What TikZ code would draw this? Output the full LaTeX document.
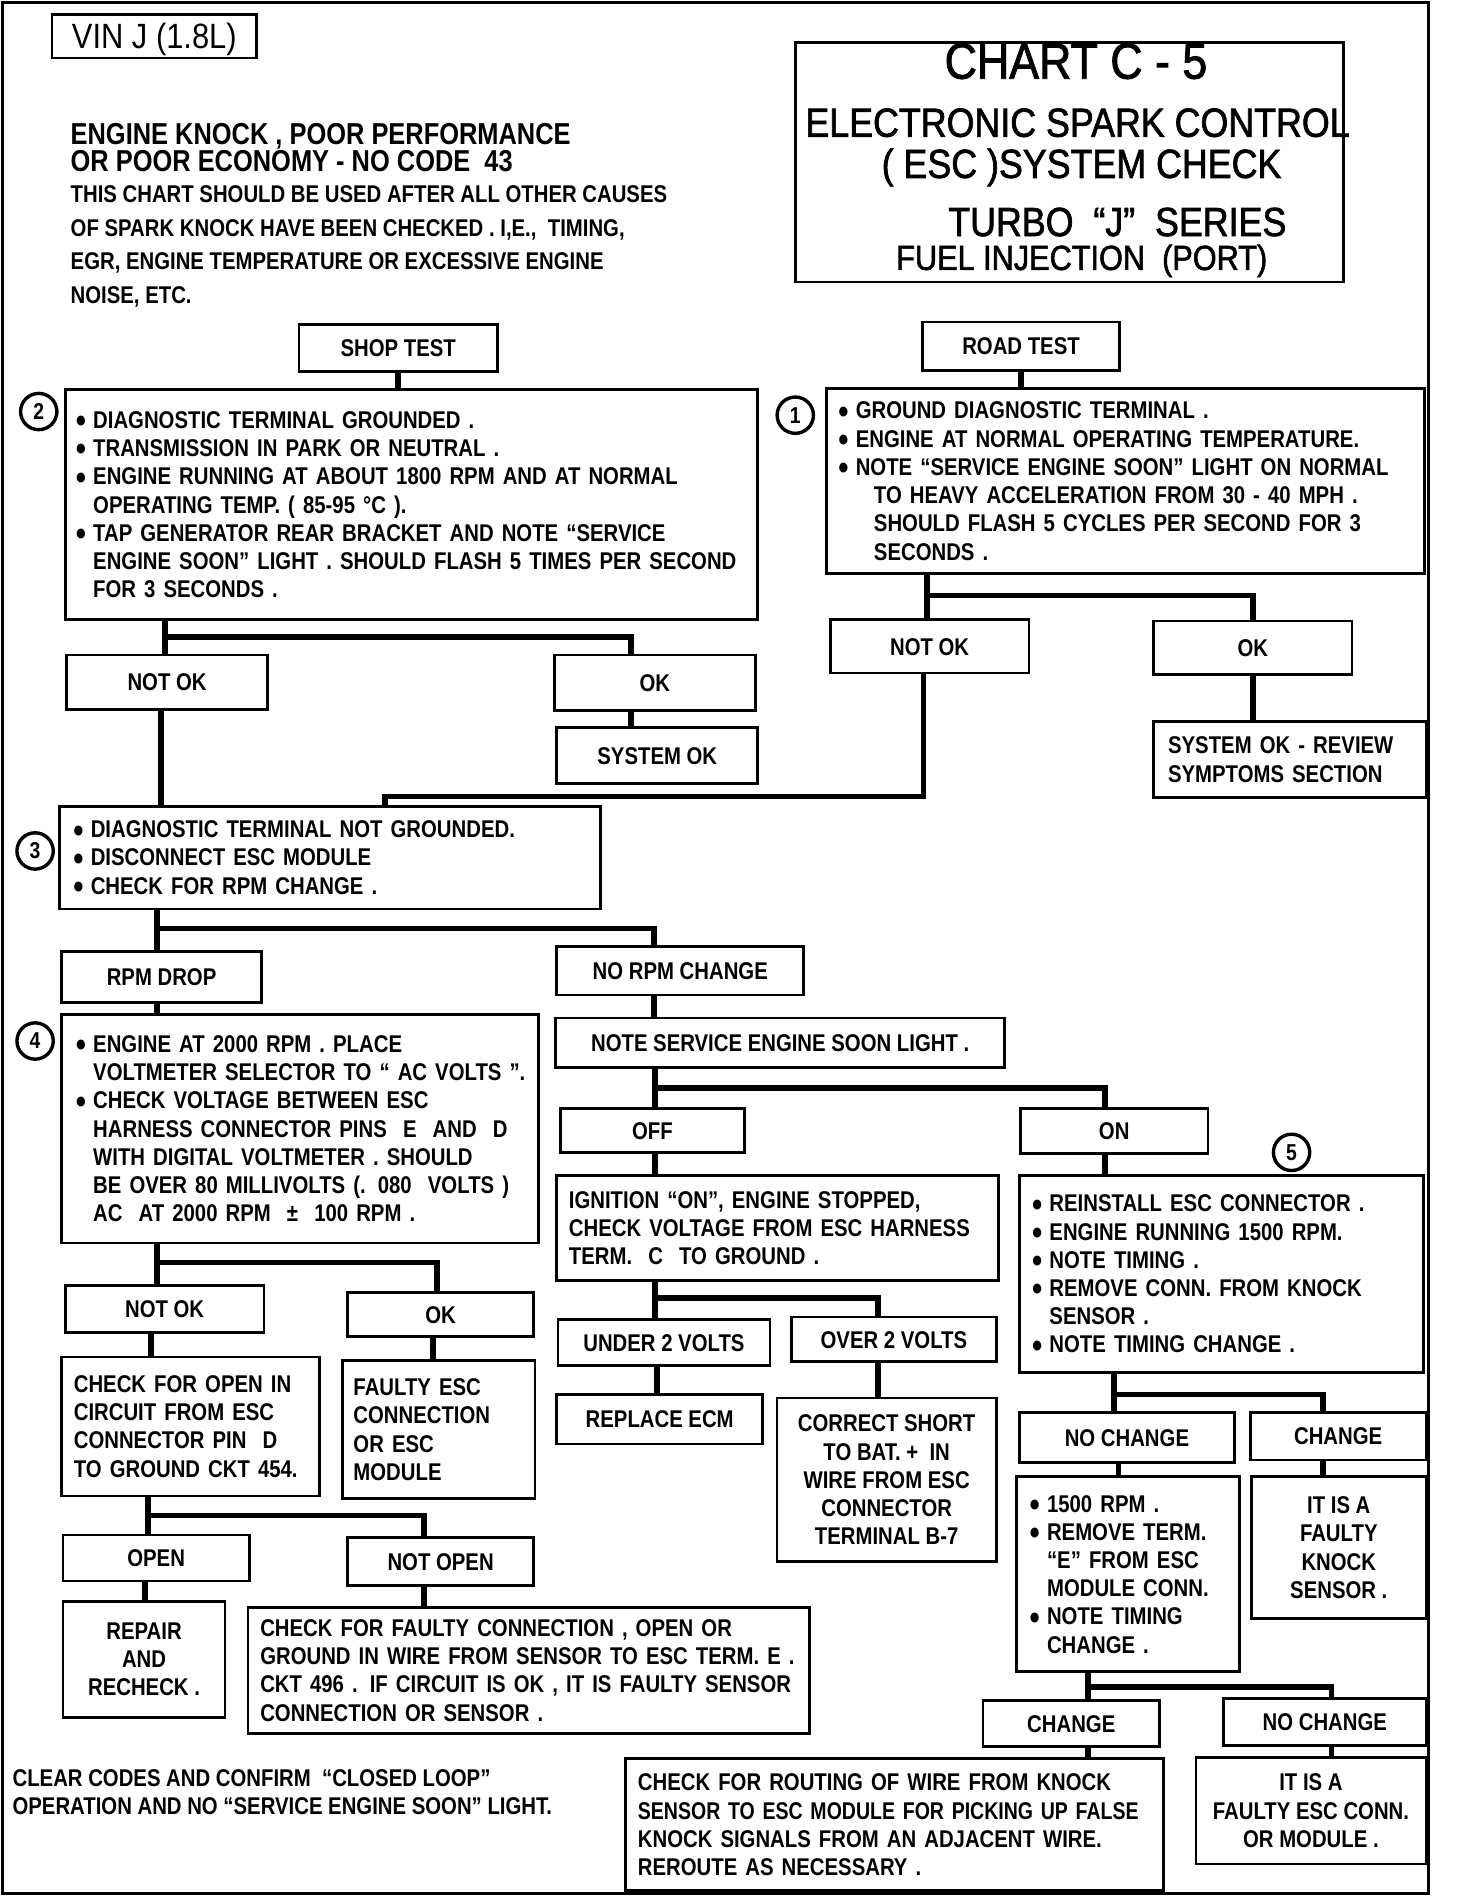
\documentclass[tikz,border=0pt]{standalone}
\usepackage{fontspec}
\setmainfont{Liberation Sans}
\newfontfamily\cf{Liberation Sans}[FakeStretch=0.84]
\newfontfamily\tf{Liberation Sans}[FakeStretch=0.88,FakeBold=1.6]
\newfontfamily\vf{Liberation Sans}[FakeStretch=0.88]
\newcommand\bodyf{\cf\bfseries\fontsize{10}{11.65}\selectfont}
\newcommand\hdrf{\cf\bfseries\fontsize{12.5}{11.65}\selectfont}
\newcommand\titf{\tf\fontsize{16.8}{20}\selectfont}
\newcommand\bul{\makebox[7.5pt][l]{\raisebox{0.3pt}{\fontsize{9.5}{9.5}\selectfont ●}}}
\newcommand\hin{\hspace*{7.5pt}}
\newcommand\bx[7][]{%
  \pgfmathsetmacro\bxcx{(#3+#5)/2}%
  \pgfmathsetmacro\bxcy{(#4+#6)/2}%
  \pgfmathsetmacro\bxw{(#5-#3)*0.5}%
  \pgfmathsetmacro\bxh{(#6-#4)*0.5}%
  \node[boxst,minimum width=\bxw pt,minimum height=\bxh pt,#1] (#2) at (\bxcx,\bxcy) {#7};}
\begin{document}
\begin{tikzpicture}[x=0.5pt,y=-0.5pt,
  boxst/.style={draw,line width=1.1pt,inner sep=0pt,font=\bodyf},
  lbl/.style={text height=7.2pt,text depth=0pt},
  lft/.code={\pgfmathsetmacro\bxtw{\bxw-2*#1}\pgfkeysalso{align=left,inner xsep=#1pt,text width=\bxtw pt}},
  lft/.default=5,
  ctr/.style={align=center},
  conn/.style={line width=2.4pt,line join=miter},
  circ/.style={circle,draw,line width=1.4pt,inner sep=0pt,minimum size=15pt,font=\cf\bfseries\fontsize{9.5}{10}\selectfont},
  txt/.style={inner sep=0pt,anchor=base west}]
\fill[white] (0,0) rectangle (1203,1568);
\useasboundingbox (0,0) rectangle (1203,1568);
\draw[line width=1.2pt] (2,2) rectangle (1180,1564);

% ---- header
\bx[font=\vf\fontsize{14.5}{16}\selectfont,text height=10.4pt,text depth=0pt]{vin}{43}{12}{212}{48}{VIN J (1.8L)}
\bx{title}{657}{35}{1110}{233}{}
\node[txt,font=\tf\fontsize{21}{24}\selectfont] (t1) at (780,65) {CHART C - 5};
\node[txt,font=\titf] (t2) at (665,113) {ELECTRONIC SPARK CONTROL};
\node[txt,font=\titf] (t3) at (728,147) {( ESC )SYSTEM CHECK};
\node[txt,font=\titf] (t4) at (783,195) {TURBO~ “J”~ SERIES};
\node[txt,font=\tf\fontsize{14.4}{18}\selectfont] (t5) at (740,223) {FUEL INJECTION~ (PORT)};

\node[txt,font=\hdrf] (hd1) at (58,119) {ENGINE KNOCK , POOR PERFORMANCE};
\node[txt,font=\hdrf] (hd2) at (58,142) {OR POOR ECONOMY - NO CODE~ 43};
\node[txt,font=\bodyf] (hd3) at (58,167) {THIS CHART SHOULD BE USED AFTER ALL OTHER CAUSES};
\node[txt,font=\bodyf] (hd4) at (58,195) {OF SPARK KNOCK HAVE BEEN CHECKED . I,E.,~ TIMING,};
\node[txt,font=\bodyf] (hd5) at (58,223) {EGR, ENGINE TEMPERATURE OR EXCESSIVE ENGINE};
\node[txt,font=\bodyf] (hd6) at (58,251) {NOISE, ETC.};

% ---- boxes
\bx[lbl]{shop}{247}{268}{411}{307}{SHOP TEST}
\bx[lbl]{road}{762}{266}{925}{306}{ROAD TEST}
\bx[lft=4]{box2}{54}{322}{626}{512}{%
\bul DIAGNOSTIC TERMINAL GROUNDED .\\
\bul TRANSMISSION IN PARK OR NEUTRAL .\\
\bul ENGINE RUNNING AT ABOUT 1800 RPM AND AT NORMAL\\
\hin OPERATING TEMP. ( 85-95 °C ).\\
\bul TAP GENERATOR REAR BRACKET AND NOTE “SERVICE\\
\hin\mbox{ENGINE SOON” LIGHT . SHOULD FLASH 5 TIMES PER SECOND}\\
\hin FOR 3 SECONDS .}
\bx[lft=4.5]{box1}{683}{321}{1177}{474}{%
\bul GROUND DIAGNOSTIC TERMINAL .\\
\bul ENGINE AT NORMAL OPERATING TEMPERATURE.\\
\bul \mbox{NOTE “SERVICE ENGINE SOON” LIGHT ON NORMAL}\\
\hin\hin TO HEAVY ACCELERATION FROM 30 - 40 MPH .\\
\hin\hin SHOULD FLASH 5 CYCLES PER SECOND FOR 3\\
\hin\hin SECONDS .}
\node[circ] (n2) at (32,340) {2};
\node[circ] (n1) at (657,343) {1};

\bx[lbl]{notok1}{55}{541}{221}{586}{NOT OK}
\bx[lbl]{ok1}{458}{541}{624}{587}{OK}
\bx[lbl]{sysok1}{460}{601}{626}{647}{SYSTEM OK}
\bx[lbl]{notok2}{686}{512}{850}{556}{NOT OK}
\bx[lbl]{ok2}{953}{513}{1117}{557}{OK}
\bx[lft=6]{sysok2}{953}{596}{1178}{659}{SYSTEM OK - REVIEW\\SYMPTOMS SECTION}

\bx[lft=5.5]{box3}{49}{666}{496}{751}{%
\bul DIAGNOSTIC TERMINAL NOT GROUNDED.\\
\bul DISCONNECT ESC MODULE\\
\bul CHECK FOR RPM CHANGE .}
\node[circ] (n3) at (29,703) {3};

\bx[lbl]{rpmdrop}{51}{786}{216}{828}{RPM DROP}
\bx[lbl]{norpm}{460}{782}{664}{822}{NO RPM CHANGE}
\bx[lft=5.5]{box4}{51}{838}{445}{1027}{%
\bul ENGINE AT 2000 RPM . PLACE\\
\hin\mbox{VOLTMETER SELECTOR TO “ AC VOLTS ”.}\\
\bul CHECK VOLTAGE BETWEEN ESC\\
\hin\mbox{HARNESS CONNECTOR PINS~ E~ AND~ D}\\
\hin\mbox{WITH DIGITAL VOLTMETER . SHOULD}\\
\hin\mbox{BE OVER 80 MILLIVOLTS (. 080~ VOLTS )}\\
\hin AC~ AT 2000 RPM~ ±~ 100 RPM .}
\node[circ] (n4) at (29,860) {4};

\bx[lbl]{note}{459}{841}{830}{882}{NOTE SERVICE ENGINE SOON LIGHT .}
\bx[lbl]{off}{463}{916}{615}{952}{OFF}
\bx[lbl]{on}{843}{916}{998}{953}{ON}
\node[circ] (n5) at (1067,952) {5};
\bx[lft=5]{ign}{460}{971}{825}{1058}{%
IGNITION “ON”, ENGINE STOPPED,\\
CHECK VOLTAGE FROM ESC HARNESS\\
TERM.~ C~ TO GROUND .}
\bx[lft=5]{box5}{842}{971}{1176}{1134}{%
\bul REINSTALL ESC CONNECTOR .\\
\bul ENGINE RUNNING 1500 RPM.\\
\bul NOTE TIMING .\\
\bul REMOVE CONN. FROM KNOCK\\
\hin SENSOR .\\
\bul NOTE TIMING CHANGE .}

\bx[lbl]{notok3}{54}{1062}{218}{1101}{NOT OK}
\bx[lbl]{ok3}{287}{1068}{441}{1104}{OK}
\bx[lft=5]{chkopen}{51}{1121}{264}{1236}{%
CHECK FOR OPEN IN\\
CIRCUIT FROM ESC\\
CONNECTOR PIN~ D\\
\mbox{TO GROUND CKT 454.}}
\bx[lft=4.5]{faulty}{283}{1124}{442}{1238}{%
FAULTY ESC\\CONNECTION\\OR ESC\\MODULE}
\bx[lbl]{open}{52}{1268}{206}{1306}{OPEN}
\bx[lbl]{notopen}{287}{1270}{441}{1310}{NOT OPEN}
\bx[ctr]{repair}{52}{1323}{186}{1419}{REPAIR\\AND\\RECHECK .}
\bx[lft=5]{chkfaulty}{205}{1328}{669}{1432}{%
CHECK FOR FAULTY CONNECTION , OPEN OR\\
\mbox{GROUND IN WIRE FROM SENSOR TO ESC TERM. E .}\\
\mbox{CKT 496 . IF CIRCUIT IS OK , IT IS FAULTY SENSOR}\\
CONNECTION OR SENSOR .}

\bx[lbl]{under}{461}{1090}{636}{1128}{UNDER 2 VOLTS}
\bx[lbl]{over}{654}{1088}{823}{1125}{OVER 2 VOLTS}
\bx[lbl]{replace}{460}{1152}{630}{1193}{REPLACE ECM}
\bx[ctr]{correct}{642}{1155}{823}{1290}{%
CORRECT SHORT\\TO BAT. +~ IN\\WIRE FROM ESC\\CONNECTOR\\TERMINAL B-7}

\bx[lbl]{nochg1}{842}{1167}{1020}{1208}{NO CHANGE}
\bx[lbl]{chg1}{1033}{1167}{1178}{1206}{CHANGE}
\bx[lft=5]{rpm1500}{840}{1220}{1024}{1381}{%
\bul 1500 RPM .\\
\bul REMOVE TERM.\\
\hin “E” FROM ESC\\
\hin MODULE CONN.\\
\bul NOTE TIMING\\
\hin CHANGE .}
\bx[ctr]{knock}{1034}{1220}{1178}{1337}{IT IS A\\FAULTY\\KNOCK\\SENSOR .}
\bx[lbl]{chg2}{812}{1405}{958}{1443}{CHANGE}
\bx[lbl]{nochg2}{1011}{1403}{1178}{1442}{NO CHANGE}
\bx[lft=5]{routing}{517}{1453}{961}{1562}{%
\mbox{CHECK FOR ROUTING OF WIRE FROM KNOCK}\\
\scalebox{0.96}[1]{SENSOR TO ESC MODULE FOR PICKING UP FALSE}\\
\mbox{KNOCK SIGNALS FROM AN ADJACENT WIRE.}\\
REROUTE AS NECESSARY .}
\bx[ctr]{escmod}{988}{1452}{1178}{1540}{IT IS A\\FAULTY ESC CONN.\\OR MODULE .}

\node[txt,font=\bodyf] (cl1) at (10,1476) {CLEAR CODES AND CONFIRM~ “CLOSED LOOP”};
\node[txt,font=\bodyf] (cl2) at (10,1499) {OPERATION AND NO “SERVICE ENGINE SOON” LIGHT.};

% ---- connectors
\draw[conn] (shop.south) -- (shop.south |- box2.north);
\draw[conn] (road.south) -- (road.south |- box1.north);
\coordinate (a1) at (136,526); \coordinate (a2) at (521,526);
\draw[conn] (box2.south -| a1) -- (notok1.north -| a1);
\draw[conn] (a1) -- (a2) -- (ok1.north -| a2);
\draw[conn] (ok1.south -| a2) -- (sysok1.north -| a2);
\coordinate (b1) at (766,492); \coordinate (b2) at (1035,492);
\draw[conn] (box1.south -| b1) -- (notok2.north -| b1);
\draw[conn] (b1) -- (b2) -- (ok2.north -| b2);
\draw[conn] (ok2.south -| b2) -- (sysok2.north -| b2);
\coordinate (c1) at (763,658); \coordinate (c2) at (318,658);
\draw[conn] (notok2.south -| c1) -- (c1) -- (c2) -- (box3.north -| c2);
\coordinate (c3) at (133,600);
\draw[conn] (notok1.south -| c3) -- (box3.north -| c3);
\coordinate (d1) at (130,767); \coordinate (d2) at (540,767);
\draw[conn] (box3.south -| d1) -- (rpmdrop.north -| d1);
\draw[conn] (d1) -- (d2) -- (norpm.north -| d2);
\draw[conn] (rpmdrop.south -| d1) -- (box4.north -| d1);
\draw[conn] (norpm.south -| d2) -- (note.north -| d2);
\coordinate (e1) at (541,899); \coordinate (e2) at (913,899);
\draw[conn] (note.south -| e1) -- (off.north -| e1);
\draw[conn] (e1) -- (e2) -- (on.north -| e2);
\draw[conn] (off.south -| e1) -- (ign.north -| e1);
\draw[conn] (on.south -| e2) -- (box5.north -| e2);
\coordinate (f1) at (130,1043); \coordinate (f2) at (361,1043);
\draw[conn] (box4.south -| f1) -- (notok3.north -| f1);
\draw[conn] (f1) -- (f2) -- (ok3.north -| f2);
\coordinate (f3) at (125,1110); \coordinate (f4) at (358,1110);
\draw[conn] (notok3.south -| f3) -- (chkopen.north -| f3);
\draw[conn] (ok3.south -| f4) -- (faulty.north -| f4);
\coordinate (g1) at (122,1252); \coordinate (g2) at (350,1252);
\draw[conn] (chkopen.south -| g1) -- (open.north -| g1);
\draw[conn] (g1) -- (g2) -- (notopen.north -| g2);
\coordinate (g3) at (120,1315);
\draw[conn] (open.south -| g3) -- (repair.north -| g3);
\draw[conn] (notopen.south -| g2) -- (chkfaulty.north -| g2);
\coordinate (h1) at (541,1072); \coordinate (h2) at (725,1072);
\draw[conn] (ign.south -| h1) -- (under.north -| h1);
\draw[conn] (h1) -- (h2) -- (over.north -| h2);
\coordinate (h3) at (543,1140);
\draw[conn] (under.south -| h3) -- (replace.north -| h3);
\draw[conn] (over.south -| h2) -- (correct.north -| h2);
\coordinate (k1) at (920,1152); \coordinate (k2) at (1093,1152);
\draw[conn] (box5.south -| k1) -- (nochg1.north -| k1);
\draw[conn] (k1) -- (k2) -- (chg1.north -| k2);
\coordinate (k3) at (924,1214);
\draw[conn] (nochg1.south -| k3) -- (rpm1500.north -| k3);
\draw[conn] (chg1.south -| k2) -- (knock.north -| k2);
\coordinate (m1) at (899,1394); \coordinate (m2) at (1100,1394);
\draw[conn] (rpm1500.south -| m1) -- (chg2.north -| m1);
\draw[conn] (m1) -- (m2) -- (nochg2.north -| m2);
\draw[conn] (chg2.south -| m1) -- (routing.north -| m1);
\draw[conn] (nochg2.south -| m2) -- (escmod.north -| m2);
\end{tikzpicture}
\end{document}
